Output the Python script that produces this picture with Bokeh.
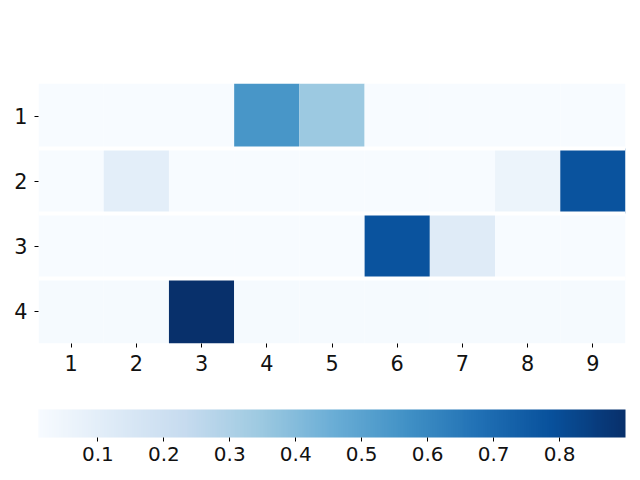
from bokeh.plotting import figure
from bokeh.models import LinearColorMapper, ColorBar, FixedTicker, ColumnDataSource
from bokeh.palettes import Blues256
from bokeh.embed import file_html
from bokeh.resources import INLINE

cols = [1, 2, 3, 4, 5, 6, 7, 8, 9]
rows = [1, 2, 3, 4]
row1 = [0.01, 0.01, 0.01, 0.55, 0.35, 0.01, 0.01, 0.01, 0.01]
row2 = [0.01, 0.10, 0.01, 0.01, 0.01, 0.01, 0.01, 0.06, 0.78]
row3 = [0.01, 0.01, 0.01, 0.01, 0.01, 0.78, 0.12, 0.01, 0.01]
row4 = [0.02, 0.02, 0.90, 0.02, 0.02, 0.02, 0.02, 0.02, 0.02]
cbar_ticks = [0.1, 0.2, 0.3, 0.4, 0.5, 0.6, 0.7, 0.8]

matrix = [row1, row2, row3, row4]
xs, ys, vs = [], [], []
for r, vals in zip(rows, matrix):
    for c, v in zip(cols, vals):
        xs.append(c)
        ys.append(r)
        vs.append(v)
src = ColumnDataSource(dict(x=xs, y=ys, v=vs))

palette = list(reversed(Blues256))
mapper = LinearColorMapper(palette=palette, low=min(vs), high=max(vs))

FONT = "DejaVu Sans"
p = figure(width=640, height=480, x_range=(0.5, 9.5), y_range=(4.5, 0.5),
           output_backend="svg", toolbar_location=None,
           min_border_left=38, min_border_right=15, min_border_top=83,
           min_border_bottom=137)
p.rect(x="x", y="y", width=1, height=1, source=src,
       fill_color={"field": "v", "transform": mapper}, line_color=None)
p.hspan(y=[r + 0.5 for r in rows[:-1]], line_color="white", line_width=4)

p.xgrid.grid_line_color = None
p.ygrid.grid_line_color = None
p.outline_line_color = None
for ax in (p.xaxis, p.yaxis):
    ax.axis_line_color = None
    ax.minor_tick_line_color = None
    ax.major_tick_in = 0
    ax.major_tick_out = 4
    ax.major_tick_line_color = "black"
    ax.major_label_text_font = FONT
    ax.major_label_text_font_size = "20.8px"
    ax.major_label_text_color = "#111111"
p.xaxis.ticker = FixedTicker(ticks=cols)
p.yaxis.ticker = FixedTicker(ticks=rows)
p.xaxis.major_label_standoff = 7
p.yaxis.major_label_standoff = 7

cb = ColorBar(color_mapper=mapper, orientation="horizontal", width=587, height=28,
              ticker=FixedTicker(ticks=cbar_ticks), padding=0, margin=0,
              major_tick_in=0, major_tick_out=4, major_tick_line_color="black",
              major_label_text_font=FONT, major_label_text_font_size="20px",
              major_label_text_color="#111111", label_standoff=5,
              bar_line_color=None, border_line_color=None,
              background_fill_alpha=0, location=(0, -120))
p.add_layout(cb, "center")

open("out.html", "w").write(file_html(p, INLINE))
